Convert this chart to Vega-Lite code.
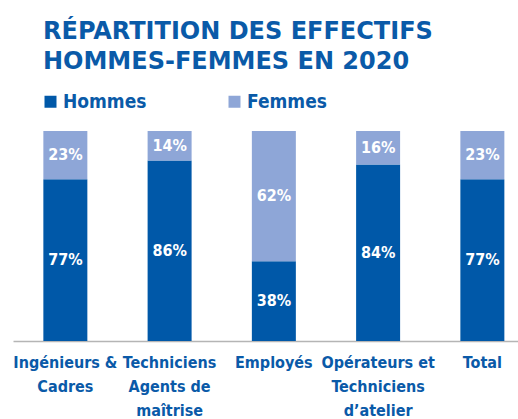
{
  "$schema": "https://vega.github.io/schema/vega-lite/v6.json",
  "width": 505,
  "height": 210,
  "autosize": "none",
  "padding": {"left": 13, "top": 131, "right": 0, "bottom": 78},
  "background": "white",
  "config": {"view": {"stroke": null}},
  "title": {
    "text": ["RÉPARTITION DES EFFECTIFS", "HOMMES-FEMMES EN 2020"],
    "anchor": "start",
    "frame": "group",
    "dx": 30,
    "offset": 18,
    "font": "DejaVu Sans",
    "fontSize": 24,
    "fontWeight": "bold",
    "color": "#0a5aa8",
    "lineHeight": 30
  },
  "data": {
    "values": [
      {"cat": "Ingénieurs &|Cadres", "genre": "Hommes", "value": 0.77},
      {"cat": "Ingénieurs &|Cadres", "genre": "Femmes", "value": 0.23},
      {"cat": "Techniciens|Agents de|maîtrise", "genre": "Hommes", "value": 0.86},
      {"cat": "Techniciens|Agents de|maîtrise", "genre": "Femmes", "value": 0.14},
      {"cat": "Employés", "genre": "Hommes", "value": 0.38},
      {"cat": "Employés", "genre": "Femmes", "value": 0.62},
      {"cat": "Opérateurs et|Techniciens|d’atelier", "genre": "Hommes", "value": 0.84},
      {"cat": "Opérateurs et|Techniciens|d’atelier", "genre": "Femmes", "value": 0.16},
      {"cat": "Total", "genre": "Hommes", "value": 0.77},
      {"cat": "Total", "genre": "Femmes", "value": 0.23}
    ]
  },
  "transform": [
    {"stack": "value", "groupby": ["cat"], "as": ["v0", "v1"], "sort": [{"field": "genre", "order": "descending"}]},
    {"calculate": "(datum.v0 + datum.v1) / 2", "as": "mid"}
  ],
  "encoding": {
    "x": {
      "field": "cat",
      "type": "nominal",
      "sort": null,
      "scale": {"type": "band", "paddingInner": 0.578, "paddingOuter": 0.211, "align": 0.69},
      "axis": {
        "title": null,
        "labelAngle": 0,
        "ticks": false,
        "domain": true,
        "domainColor": "#b5b5b5",
        "domainWidth": 1.5,
        "labelPadding": 13,
        "labelBaseline": "top",
        "labelExpr": "split(datum.label, '|')",
        "labelFont": "DejaVu Sans Condensed",
        "labelFontSize": 16,
        "labelFontWeight": "bold",
        "labelColor": "#0a5aa8",
        "labelLineHeight": 24,
        "labelLimit": 200
      }
    }
  },
  "layer": [
    {
      "mark": {"type": "bar"},
      "encoding": {
        "y": {"field": "v0", "type": "quantitative", "scale": {"domain": [0, 1]}, "axis": null},
        "y2": {"field": "v1"},
        "color": {
          "field": "genre",
          "type": "nominal",
          "scale": {"domain": ["Hommes", "Femmes"], "range": ["#0058a8", "#8ea6d7"]},
          "legend": {
            "orient": "none",
            "legendX": 28,
            "legendY": -39,
            "direction": "horizontal",
            "title": null,
            "symbolType": "square",
            "symbolSize": 144,
            "symbolStrokeWidth": 0,
            "labelFont": "DejaVu Sans Condensed",
            "labelFontSize": 19,
            "labelFontWeight": "bold",
            "labelColor": "#0a5aa8",
            "labelOffset": 3,
            "columnPadding": 78
          }
        }
      }
    },
    {
      "mark": {"type": "text", "color": "white", "font": "DejaVu Sans Condensed", "fontSize": 16, "fontWeight": "bold", "baseline": "middle"},
      "encoding": {
        "y": {"field": "mid", "type": "quantitative", "scale": {"domain": [0, 1]}},
        "text": {"field": "value", "type": "quantitative", "format": ".0%"}
      }
    }
  ]
}
